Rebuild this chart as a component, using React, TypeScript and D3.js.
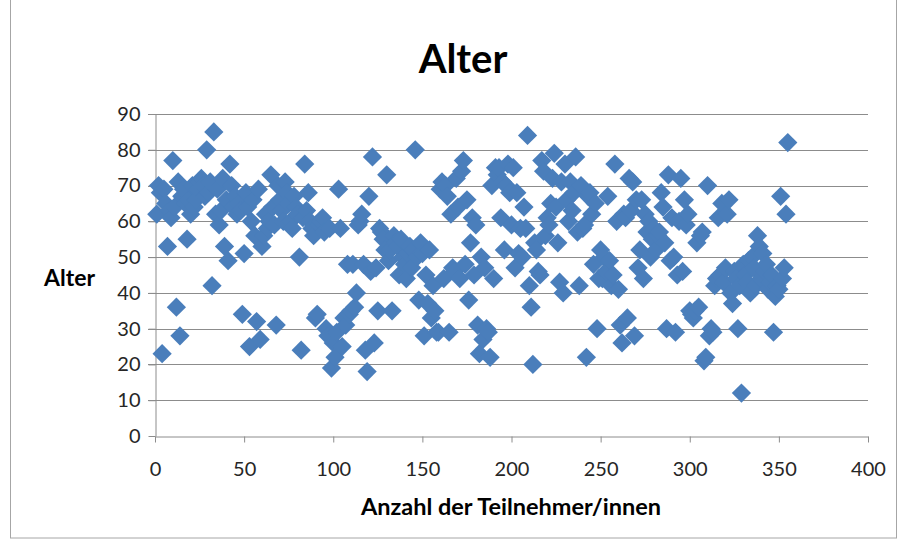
import { useEffect, useRef } from 'react';
import * as d3 from 'd3';

// Alter (age) of each participant, participant number = index + 1
const ages: number[] = [
  62, 70, 68, 23, 69, 65, 53, 63, 61, 77,
  64, 36, 71, 28, 67, 69, 65, 55, 66, 62,
  70, 64, 66, 69, 71, 72, 70, 67, 80, 68,
  71, 42, 85, 62, 69, 59, 63, 72, 53, 66,
  49, 76, 70, 64, 67, 62, 65, 63, 34, 51,
  68, 64, 25, 60, 66, 56, 32, 69, 27, 53,
  56, 62, 58, 60, 73, 64, 59, 31, 70, 66,
  63, 60, 71, 68, 65, 60, 58, 67, 64, 62,
  50, 24, 61, 76, 63, 68, 60, 58, 56, 33,
  34, 59, 60, 61, 57, 30, 28, 58, 19, 26,
  22, 29, 69, 58, 25, 33, 31, 48, 34, 35,
  48, 36, 40, 59, 60, 62, 48, 24, 18, 67,
  46, 78, 26, 47, 35, 58, 57, 55, 52, 73,
  49, 52, 35, 56, 54, 53, 45, 55, 50, 48,
  44, 51, 53, 47, 52, 80, 50, 38, 54, 51,
  28, 45, 37, 52, 33, 42, 35, 29, 29, 69,
  71, 44, 70, 67, 29, 62, 47, 46, 72, 64,
  44, 74, 77, 48, 66, 38, 54, 61, 45, 59,
  31, 23, 50, 27, 47, 30, 29, 22, 70, 44,
  75, 73, 75, 61, 71, 52, 70, 76, 68, 59,
  75, 47, 68, 51, 58, 50, 64, 58, 84, 42,
  36, 20, 54, 52, 46, 45, 77, 74, 56, 61,
  59, 65, 72, 79, 64, 54, 43, 71, 40, 76,
  66, 60, 71, 63, 68, 78, 57, 42, 70, 58,
  59, 22, 67, 68, 62, 48, 65, 30, 44, 52,
  44, 50, 46, 67, 49, 42, 45, 76, 60, 41,
  31, 26, 62, 61, 33, 72, 63, 71, 28, 66,
  47, 52, 66, 44, 62, 57, 60, 50, 55, 58,
  52, 56, 57, 68, 64, 54, 30, 73, 49, 61,
  50, 29, 45, 60, 72, 46, 66, 59, 62, 35,
  34, 33, 35, 54, 36, 56, 57, 21, 22, 70,
  28, 30, 29, 42, 44, 61, 45, 65, 43, 47,
  62, 66, 40, 37, 46, 44, 30, 42, 12, 48,
  45, 43, 49, 40, 50, 47, 42, 56, 53, 44,
  51, 46, 48, 41, 43, 45, 29, 39, 42, 41,
  67, 44, 47, 62, 82,
];

const xTicks = [0, 50, 100, 150, 200, 250, 300, 350, 400];
const yTicks = [0, 10, 20, 30, 40, 50, 60, 70, 80, 90];

const title = 'Alter';
const xTitle = 'Anzahl der Teilnehmer/innen';
const yTitle = 'Alter';

export default function App() {
  const svgRef = useRef<SVGSVGElement>(null);

  useEffect(() => {
    if (!svgRef.current) return;
    const svg = d3.select(svgRef.current);
    svg.selectAll('*').remove();

    const W = 905;
    const H = 546;
    const font = 'Lato, "Open Sans", sans-serif';
    const gridColor = '#8c8c8c';

    const x = d3.scaleLinear().domain([0, 400]).range([155, 868]);
    const y = d3.scaleLinear().domain([0, 90]).range([436, 114]);

    svg.append('rect')
      .attr('width', W)
      .attr('height', H)
      .attr('fill', '#fff');

    // chart frame
    svg.append('rect')
      .attr('x', 10.5)
      .attr('y', -2)
      .attr('width', 886)
      .attr('height', 540)
      .attr('fill', 'none')
      .attr('stroke', '#a6a6a6')
      .attr('stroke-width', 1);

    // gridlines
    svg.append('g')
      .selectAll('line')
      .data(yTicks.filter(d => d > 0))
      .enter()
      .append('line')
      .attr('x1', x(0) - 7)
      .attr('x2', x(400))
      .attr('y1', d => Math.round(y(d)) + 0.5)
      .attr('y2', d => Math.round(y(d)) + 0.5)
      .attr('stroke', gridColor)
      .attr('stroke-width', 1);

    // y axis
    const yAxis = svg.append('g')
      .attr('transform', `translate(${x(0) + 0.5},0)`)
      .call(d3.axisLeft(y).tickValues(yTicks).tickSize(7).tickPadding(8).tickSizeOuter(0))
      .attr('font-family', font)
      .attr('font-size', 20);
    yAxis.selectAll('line').attr('stroke', gridColor);
    yAxis.select('.domain').attr('stroke', gridColor);
    yAxis.selectAll('text').attr('fill', '#262626');

    // x axis
    const xAxis = svg.append('g')
      .attr('transform', `translate(0,${Math.round(y(0)) + 0.5})`)
      .call(d3.axisBottom(x).tickValues(xTicks).tickSize(6).tickPadding(19).tickSizeOuter(0))
      .attr('font-family', font)
      .attr('font-size', 20);
    xAxis.selectAll('line').attr('stroke', gridColor);
    xAxis.select('.domain').attr('stroke', gridColor);
    xAxis.selectAll('text').attr('fill', '#262626');

    // points
    const diamond = d3.symbol(d3.symbolSquare, 185);
    svg.append('g')
      .selectAll('path')
      .data(ages)
      .enter()
      .append('path')
      .attr('d', diamond)
      .attr('transform', (d, i) => `translate(${x(i + 1)},${y(d)}) rotate(45)`)
      .attr('fill', '#4a7ebb');

    // titles
    svg.append('text')
      .attr('x', 463)
      .attr('y', 73)
      .attr('text-anchor', 'middle')
      .attr('font-family', font)
      .attr('font-weight', 'bold')
      .attr('font-size', 40)
      .attr('fill', '#000')
      .text(title);

    svg.append('text')
      .attr('x', 511)
      .attr('y', 515)
      .attr('text-anchor', 'middle')
      .attr('font-family', font)
      .attr('font-weight', 'bold')
      .attr('font-size', 23.5)
      .attr('fill', '#000')
      .text(xTitle);

    svg.append('text')
      .attr('x', 44)
      .attr('y', 286)
      .attr('font-family', font)
      .attr('font-weight', 'bold')
      .attr('font-size', 23)
      .attr('fill', '#000')
      .text(yTitle);
  }, []);

  return (
    <div style={{ position: 'absolute', left: 0, top: 0 }}>
      <svg ref={svgRef} width={905} height={546} style={{ display: 'block' }} />
    </div>
  );
}
